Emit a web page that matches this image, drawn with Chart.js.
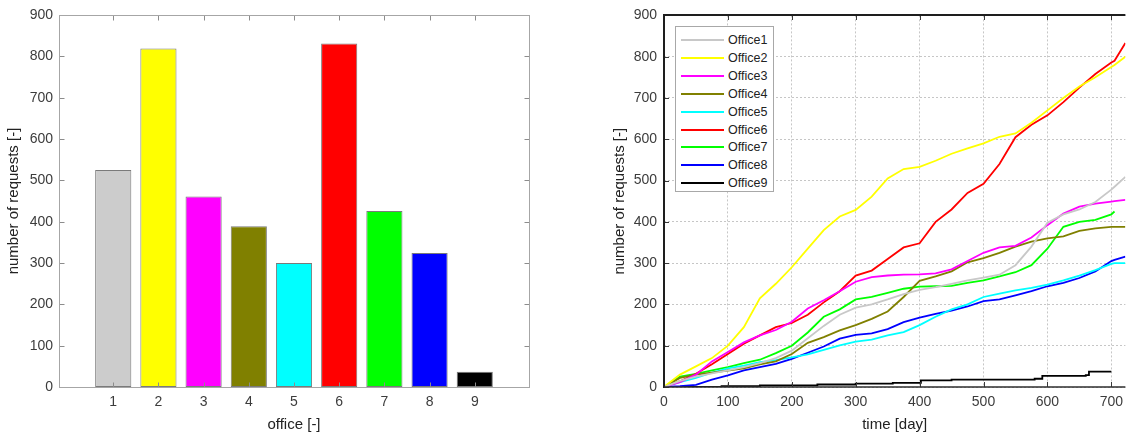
<!DOCTYPE html>
<html>
<head>
<meta charset="utf-8">
<script src="https://cdn.jsdelivr.net/npm/chart.js@4/dist/chart.umd.min.js"></script>
<style>
  html, body { margin: 0; padding: 0; background: #fff; width: 1130px; height: 436px; overflow: hidden; }
  #wrap { position: relative; width: 1130px; height: 436px; }
  canvas { position: absolute; top: 0; }
  #barCanvas { left: 0; }
  #lineCanvas { left: 585px; }
  #legend {
    position: absolute; left: 675px; top: 26px; width: 99px; height: 166px;
    box-sizing: border-box; border: 1px solid #a8a8a8; background: #fff;
    font: 12.5px "Liberation Sans", Arial, sans-serif; color: #222;
  }
  #legend .row { position: absolute; left: 0; width: 100%; height: 18px; }
  #legend .swatch { position: absolute; left: 5px; top: 8px; width: 43px; height: 2px; }
  #legend .lbl { position: absolute; left: 52px; top: 1px; line-height: 16px; white-space: nowrap; }
</style>
</head>
<body>
<div id="wrap">
  <canvas id="barCanvas" width="560" height="436"></canvas>
  <canvas id="lineCanvas" width="545" height="436"></canvas>
  <div id="legend"></div>
</div>
<script>
// ---- bar chart: total requests per office ----
const barOffices = [1, 2, 3, 4, 5, 6, 7, 8, 9];
const barValues  = [525, 819, 461, 389, 300, 831, 426, 324, 37];
const barColors  = ['#cccccc', '#ffff00', '#ff00ff', '#808000', '#00ffff', '#ff0000', '#00ff00', '#0000ff', '#000000'];
const barXTicks  = [1, 2, 3, 4, 5, 6, 7, 8, 9];
const countTicks = [0, 100, 200, 300, 400, 500, 600, 700, 800, 900];

// ---- cumulative requests over time ----
const seriesNames  = ['Office1', 'Office2', 'Office3', 'Office4', 'Office5', 'Office6', 'Office7', 'Office8', 'Office9'];
const seriesColors = ['#c8c8c8', '#ffff00', '#ff00ff', '#808000', '#00ffff', '#ff0000', '#00ff00', '#0000ff', '#000000'];
const dayTicks = [0, 100, 200, 300, 400, 500, 600, 700];
const days = [0, 25, 50, 75, 100, 125, 150, 175, 200, 225, 250, 275, 300, 325, 350, 375, 400, 425, 450, 475, 500, 525, 550, 575, 600, 625, 650, 675, 700, 705, 722];
const office1 = [0, 15, 25, 33, 40, 48, 58, 70, 88, 118, 148, 175, 192, 200, 212, 225, 235, 242, 250, 258, 265, 272, 295, 340, 398, 418, 430, 448, 478, 485, 509];
const office2 = [0, 30, 50, 70, 100, 145, 215, 250, 290, 335, 380, 413, 429, 461, 505, 528, 533, 548, 565, 578, 590, 606, 614, 640, 670, 700, 728, 750, 775, 780, 800];
const office3 = [0, 12, 30, 62, 85, 108, 125, 138, 158, 190, 210, 232, 255, 266, 270, 272, 273, 275, 285, 305, 325, 338, 342, 362, 392, 420, 437, 444, 449, 450, 453];
const office4 = [0, 22, 30, 35, 40, 45, 55, 62, 80, 107, 121, 137, 150, 165, 183, 218, 257, 268, 280, 302, 312, 325, 340, 352, 360, 365, 378, 384, 388, 388, 388];
const office5 = [0, 12, 22, 35, 45, 52, 60, 65, 72, 79, 90, 101, 110, 115, 125, 133, 150, 170, 188, 200, 218, 226, 234, 240, 248, 258, 270, 283, 298, 300, 300];
const office6 = [0, 14, 32, 55, 80, 105, 125, 145, 155, 175, 205, 232, 270, 282, 310, 338, 348, 400, 430, 470, 492, 540, 605, 635, 658, 690, 725, 758, 786, 790, 833];
const office7 = [0, 25, 32, 40, 48, 58, 66, 82, 100, 132, 170, 188, 212, 218, 228, 238, 243, 244, 245, 252, 258, 268, 278, 295, 335, 388, 400, 405, 418, 425, null];
const office8 = [0, 2, 5, 18, 28, 40, 48, 56, 68, 83, 98, 117, 126, 130, 140, 157, 168, 177, 185, 195, 208, 212, 222, 232, 244, 252, 264, 280, 305, 308, 316];
// Office9 has only a handful of requests, drawn as explicit steps
const office9Days   = [0, 90, 150, 240, 300, 358, 402, 450, 580, 592, 660, 665, 700];
const office9Values = [0, 2, 4, 6, 8, 10, 16, 18, 20, 27, 29, 37, 37];

const FONT = '"Liberation Sans", Arial, Helvetica, sans-serif';
Chart.defaults.font.family = FONT;
Chart.defaults.color = '#3c3c3c';

const tickFont = { family: FONT, size: 14 };
const titleFont = { family: FONT, size: 15 };
const TICK_COLOR = '#3c3c3c';
const TITLE_COLOR = '#222';

function fixedTicks(values) {
  return scale => { scale.ticks = values.map(v => ({ value: v })); };
}
function crisp(v) { return Math.round(v) + 0.5; }

// light grey box with inward tick marks on all four sides
const boxFrame = {
  id: 'boxFrame',
  afterDraw(chart) {
    const { ctx, chartArea: a, scales: { x, y } } = chart;
    const L = crisp(a.left), R = crisp(a.right), T = crisp(a.top), B = crisp(a.bottom);
    ctx.save();
    ctx.lineWidth = 1;
    ctx.strokeStyle = '#8c8c8c';
    ctx.beginPath();
    y.ticks.forEach(t => {
      const p = crisp(y.getPixelForValue(t.value));
      ctx.moveTo(L, p); ctx.lineTo(L + 5, p);
      ctx.moveTo(R, p); ctx.lineTo(R - 5, p);
    });
    x.ticks.forEach(t => {
      const p = crisp(x.getPixelForValue(t.value));
      ctx.moveTo(p, B); ctx.lineTo(p, B - 5);
      ctx.moveTo(p, T); ctx.lineTo(p, T + 5);
    });
    ctx.stroke();
    ctx.strokeStyle = '#a6a6a6';
    ctx.strokeRect(L, T, R - L, B - T);
    ctx.restore();
  }
};

// dark axis lines on the left, top and bottom of the time plot
const axisFrame = {
  id: 'axisFrame',
  afterDraw(chart) {
    const { ctx, chartArea: a, scales: { x, y } } = chart;
    const L = Math.round(a.left), T = Math.round(a.top), B = Math.round(a.bottom), R = a.right;
    ctx.save();
    ctx.strokeStyle = '#3a3a3a';
    ctx.lineWidth = 1;
    ctx.beginPath();
    y.ticks.forEach(t => {
      const p = crisp(y.getPixelForValue(t.value));
      ctx.moveTo(L, p); ctx.lineTo(L + 5, p);
    });
    x.ticks.forEach(t => {
      const p = crisp(x.getPixelForValue(t.value));
      ctx.moveTo(p, B); ctx.lineTo(p, B - 5);
      ctx.moveTo(p, T); ctx.lineTo(p, T + 5);
    });
    ctx.stroke();
    ctx.strokeStyle = '#1e1e1e';
    ctx.lineWidth = 2;
    ctx.beginPath();
    ctx.moveTo(L, B + 1); ctx.lineTo(L, T);
    ctx.lineTo(R, T);
    ctx.stroke();
    ctx.strokeStyle = '#2e2e2e';
    ctx.lineWidth = 1.5;
    ctx.beginPath();
    ctx.moveTo(L, B); ctx.lineTo(R, B);
    ctx.stroke();
    ctx.restore();
  }
};

new Chart(document.getElementById('barCanvas'), {
  type: 'bar',
  data: {
    datasets: [{
      data: barOffices.map((o, i) => ({ x: o, y: barValues[i] })),
      backgroundColor: barColors,
      borderColor: '#7a7a7a',
      borderWidth: 1,
      borderSkipped: false,
      categoryPercentage: 1,
      barPercentage: 0.8
    }]
  },
  options: {
    responsive: false,
    animation: false,
    devicePixelRatio: 1,
    events: [],
    layout: { padding: { left: 0, right: 31, top: 15, bottom: 0 } },
    plugins: { legend: { display: false }, tooltip: { enabled: false } },
    scales: {
      x: {
        type: 'linear', min: -0.2, max: 10.2, offset: false,
        afterBuildTicks: fixedTicks(barXTicks),
        afterFit: s => { s.height = 49; },
        grid: { display: false, drawTicks: false },
        border: { display: false },
        ticks: { font: tickFont, color: TICK_COLOR, padding: 7, maxRotation: 0 },
        title: { display: true, text: 'office [-]', font: titleFont, color: TITLE_COLOR, padding: { top: 0, bottom: 2 } }
      },
      y: {
        min: 0, max: 900,
        afterBuildTicks: fixedTicks(countTicks),
        afterFit: s => { s.width = 59; },
        grid: { display: false, drawTicks: false },
        border: { display: false },
        ticks: { font: tickFont, color: TICK_COLOR, padding: 6 },
        title: { display: true, text: 'number of requests [-]', font: titleFont, color: TITLE_COLOR, padding: { top: 5, bottom: 0 } }
      }
    }
  },
  plugins: [boxFrame]
});

const lineSeries = [office1, office2, office3, office4, office5, office6, office7, office8];
const lineDatasets = lineSeries.map((vals, i) => ({
  label: seriesNames[i],
  data: days.map((d, j) => ({ x: d, y: vals[j] })),
  borderColor: seriesColors[i],
  backgroundColor: seriesColors[i],
  borderWidth: 1.8,
  pointRadius: 0,
  tension: 0,
  fill: false,
  spanGaps: false
}));
lineDatasets.push({
  label: seriesNames[8],
  data: office9Days.map((d, j) => ({ x: d, y: office9Values[j] })),
  borderColor: seriesColors[8],
  backgroundColor: seriesColors[8],
  borderWidth: 1.8,
  pointRadius: 0,
  stepped: true,
  fill: false
});

new Chart(document.getElementById('lineCanvas'), {
  type: 'line',
  data: { datasets: lineDatasets },
  options: {
    responsive: false,
    animation: false,
    devicePixelRatio: 1,
    events: [],
    layout: { padding: { left: 0, right: 0, top: 15, bottom: 0 } },
    plugins: { legend: { display: false }, tooltip: { enabled: false } },
    scales: {
      x: {
        type: 'linear', min: 0, max: 722,
        afterBuildTicks: fixedTicks(dayTicks),
        afterFit: s => { s.height = 49; },
        grid: { color: '#c6c6c6', lineWidth: 1, drawTicks: false },
        border: { display: false, dash: [2, 2] },
        ticks: { font: tickFont, color: TICK_COLOR, padding: 7, maxRotation: 0 },
        title: { display: true, text: 'time [day]', font: titleFont, color: TITLE_COLOR, padding: { top: 0, bottom: 2 } }
      },
      y: {
        min: 0, max: 900,
        afterBuildTicks: fixedTicks(countTicks),
        afterFit: s => { s.width = 79; },
        grid: { color: '#c6c6c6', lineWidth: 1, drawTicks: false },
        border: { display: false, dash: [2, 2] },
        ticks: { font: tickFont, color: TICK_COLOR, padding: 7 },
        title: { display: true, text: 'number of requests [-]', font: titleFont, color: TITLE_COLOR, padding: { top: 26, bottom: 0 } }
      }
    }
  },
  plugins: [axisFrame]
});

// legend box built from the series names and colours
const legend = document.getElementById('legend');
seriesNames.forEach((name, i) => {
  const row = document.createElement('div');
  row.className = 'row';
  row.style.top = (4 + i * 17.9) + 'px';
  const sw = document.createElement('div');
  sw.className = 'swatch';
  sw.style.background = seriesColors[i];
  const lb = document.createElement('span');
  lb.className = 'lbl';
  lb.textContent = name;
  row.appendChild(sw);
  row.appendChild(lb);
  legend.appendChild(row);
});
</script>
</body>
</html>
